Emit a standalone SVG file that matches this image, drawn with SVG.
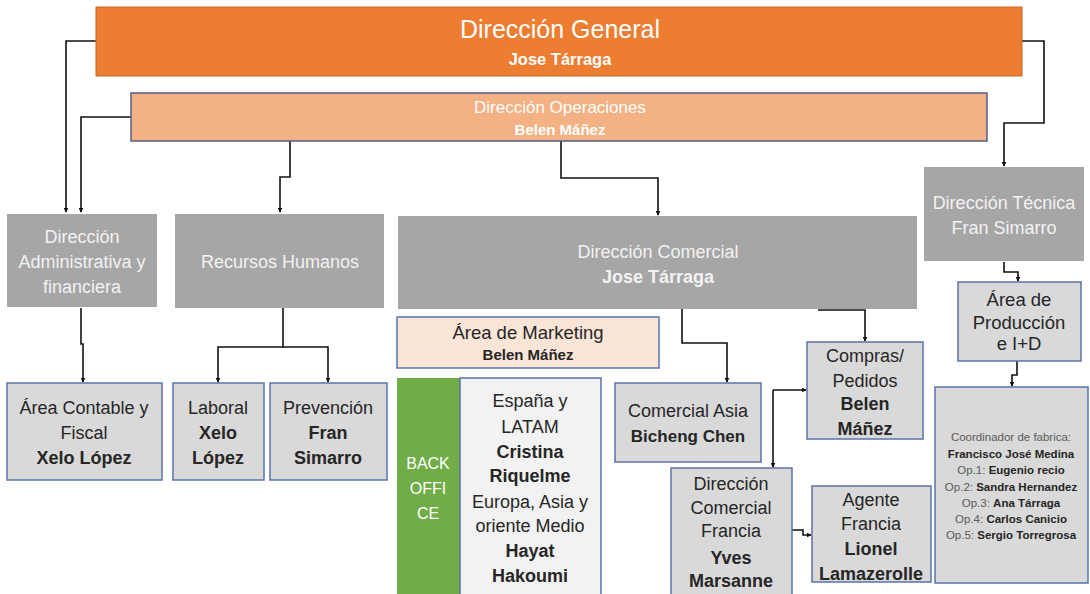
<svg xmlns="http://www.w3.org/2000/svg" width="1090" height="594" viewBox="0 0 1090 594">
<defs>
<marker id="arr" viewBox="0 0 8 8" refX="7" refY="4" markerWidth="5" markerHeight="5" orient="auto" markerUnits="userSpaceOnUse">
<path d="M0,0 L8,4 L0,8 z" fill="#111"/>
</marker>
<style>
text{font-family:"Liberation Sans",Arial,sans-serif;text-anchor:middle}
.b{font-weight:bold}
.w{fill:#f2f2f2}
.d{fill:#262626}
.g{fill:#595959}
.gray{fill:#a6a6a6}
.lg{fill:#d9d9d9;stroke:#5a74a8;stroke-width:1.5}
.t{font-size:18px}
.conn path{fill:none;stroke:#111;stroke-width:1.6;marker-end:url(#arr)}
</style>
</defs>
<rect width="1090" height="594" fill="#ffffff"/>

<g class="conn">
<path d="M96,41 H66 V212"/>
<path d="M131,117 H81 V212"/>
<path d="M1022,41 H1044 V123 H1004 V166"/>
<path d="M290,141 V177 H280 V212"/>
<path d="M561,141 V178 H658 V215"/>
<path d="M81,308 V344 H83 V382"/>
<path d="M283,308 V347 H218 V382"/>
<path d="M283,347 H328 V382"/>
<path d="M682,309 V343 H727 V382"/>
<path d="M818,310 H865 V341"/>
<path d="M773,390 V467"/>
<path d="M773,390 H806"/>
<path d="M792,530 H803 V535 H811"/>
<path d="M1004,262 V272 H1018 V281"/>
<path d="M1017,361 V375 H1012 V386"/>
</g>

<g id="dir-general">
<rect x="96" y="7" width="926" height="69" fill="#ed7d31" stroke="#c9672a" stroke-width="1"/>
<text x="560" y="38" font-size="25" fill="#ffffff">Dirección General</text>
<text x="560" y="65" font-size="16.5" class="b" fill="#ffffff">Jose Tárraga</text>
</g>

<g id="dir-operaciones">
<rect x="131" y="93" width="856" height="48" fill="#f4b183" stroke="#4f5f86" stroke-width="1.5"/>
<text x="560" y="113" font-size="17" fill="#ffffff">Dirección Operaciones</text>
<text x="560" y="135" font-size="15" class="b" fill="#ffffff">Belen Máñez</text>
</g>

<g id="dir-administrativa">
<rect x="7" y="214" width="150" height="93" class="gray"/>
<text x="82" y="243" class="t w">Dirección</text>
<text x="82" y="268" class="t w">Administrativa y</text>
<text x="82" y="293" class="t w">financiera</text>
</g>

<g id="recursos-humanos">
<rect x="175" y="214" width="209" height="94" class="gray"/>
<text x="280" y="268" class="t w">Recursos Humanos</text>
</g>

<g id="dir-comercial">
<rect x="398" y="216" width="519" height="93" class="gray"/>
<text x="658" y="258" class="t w">Dirección Comercial</text>
<text x="658" y="283" class="t w b">Jose Tárraga</text>
</g>

<g id="dir-tecnica">
<rect x="924" y="167" width="160" height="94" class="gray"/>
<text x="1004" y="209" class="t w">Dirección Técnica</text>
<text x="1004" y="234" class="t w">Fran Simarro</text>
</g>

<g id="area-contable">
<rect x="7" y="383" width="155" height="97" class="lg"/>
<text x="84" y="414" class="t d">Área Contable y</text>
<text x="84" y="439" class="t d">Fiscal</text>
<text x="84" y="464" class="t d b">Xelo López</text>
</g>

<g id="laboral">
<rect x="173" y="383" width="91" height="97" class="lg"/>
<text x="218" y="414" class="t d">Laboral</text>
<text x="218" y="439" class="t d b">Xelo</text>
<text x="218" y="464" class="t d b">López</text>
</g>

<g id="prevencion">
<rect x="270" y="383" width="117" height="97" class="lg"/>
<text x="328" y="414" class="t d">Prevención</text>
<text x="328" y="439" class="t d b">Fran</text>
<text x="328" y="464" class="t d b">Simarro</text>
</g>

<g id="area-marketing">
<rect x="397" y="317" width="262" height="51" fill="#fbe5d6" stroke="#5a74a8" stroke-width="1.5"/>
<text x="528" y="339" font-size="18.5" class="d">Área de Marketing</text>
<text x="528" y="360" font-size="15" class="d b">Belen Máñez</text>
</g>

<g id="back-office">
<rect x="397" y="378" width="63" height="220" fill="#70ad47"/>
<text x="428" y="469" font-size="16" fill="#ffffff">BACK</text>
<text x="428" y="494" font-size="16" fill="#ffffff">OFFI</text>
<text x="428" y="519" font-size="16" fill="#ffffff">CE</text>
</g>

<g id="espana-latam">
<rect x="460" y="378" width="141" height="220" fill="#f2f2f2" stroke="#5a74a8" stroke-width="1.5"/>
<text x="530" y="407" class="t d">España y</text>
<text x="530" y="433" class="t d">LATAM</text>
<text x="530" y="458" class="t d b">Cristina</text>
<text x="530" y="482" class="t d b">Riquelme</text>
<text x="530" y="508" class="t d">Europa, Asia y</text>
<text x="530" y="532" class="t d">oriente Medio</text>
<text x="530" y="557" class="t d b">Hayat</text>
<text x="530" y="582" class="t d b">Hakoumi</text>
</g>

<g id="comercial-asia">
<rect x="615" y="383" width="146" height="79" class="lg"/>
<text x="688" y="417" class="t d">Comercial Asia</text>
<text x="688" y="442" font-size="17" class="d b">Bicheng Chen</text>
</g>

<g id="compras-pedidos">
<rect x="807" y="342" width="116" height="97" class="lg"/>
<text x="865" y="362" class="t d">Compras/</text>
<text x="865" y="387" class="t d">Pedidos</text>
<text x="865" y="410" class="t d b">Belen</text>
<text x="865" y="435" class="t d b">Máñez</text>
</g>

<g id="dir-comercial-francia">
<rect x="671" y="468" width="121" height="130" class="lg"/>
<text x="731" y="490" class="t d">Dirección</text>
<text x="731" y="514" class="t d">Comercial</text>
<text x="731" y="537" class="t d">Francia</text>
<text x="731" y="564" class="t d b">Yves</text>
<text x="731" y="587" class="t d b">Marsanne</text>
</g>

<g id="agente-francia">
<rect x="812" y="486" width="119" height="96" class="lg"/>
<text x="871" y="506" class="t d">Agente</text>
<text x="871" y="530" class="t d">Francia</text>
<text x="871" y="555" class="t d b">Lionel</text>
<text x="871" y="580" class="t d b">Lamazerolle</text>
</g>

<g id="area-produccion">
<rect x="958" y="282" width="123" height="79" class="lg"/>
<text x="1019" y="306" font-size="18.5" class="d">Área de</text>
<text x="1019" y="329" font-size="18.5" class="d">Producción</text>
<text x="1019" y="350" font-size="18.5" class="d">e I+D</text>
</g>

<g id="coordinador">
<rect x="935" y="387" width="153" height="196" class="lg"/>
<text x="1011" y="441" font-size="11.5" class="g">Coordinador de fabrica:</text>
<text x="1011" y="458" font-size="11.5" class="d b">Francisco José Medina</text>
<text x="1011" y="474" font-size="11.5" class="g">Op.1: <tspan class="d b">Eugenio recio</tspan></text>
<text x="1011" y="491" font-size="11.5" class="g">Op.2: <tspan class="d b">Sandra Hernandez</tspan></text>
<text x="1011" y="507" font-size="11.5" class="g">Op.3: <tspan class="d b">Ana Tárraga</tspan></text>
<text x="1011" y="523" font-size="11.5" class="g">Op.4: <tspan class="d b">Carlos Canicio</tspan></text>
<text x="1011" y="539" font-size="11.5" class="g">Op.5: <tspan class="d b">Sergio Torregrosa</tspan></text>
</g>
</svg>
